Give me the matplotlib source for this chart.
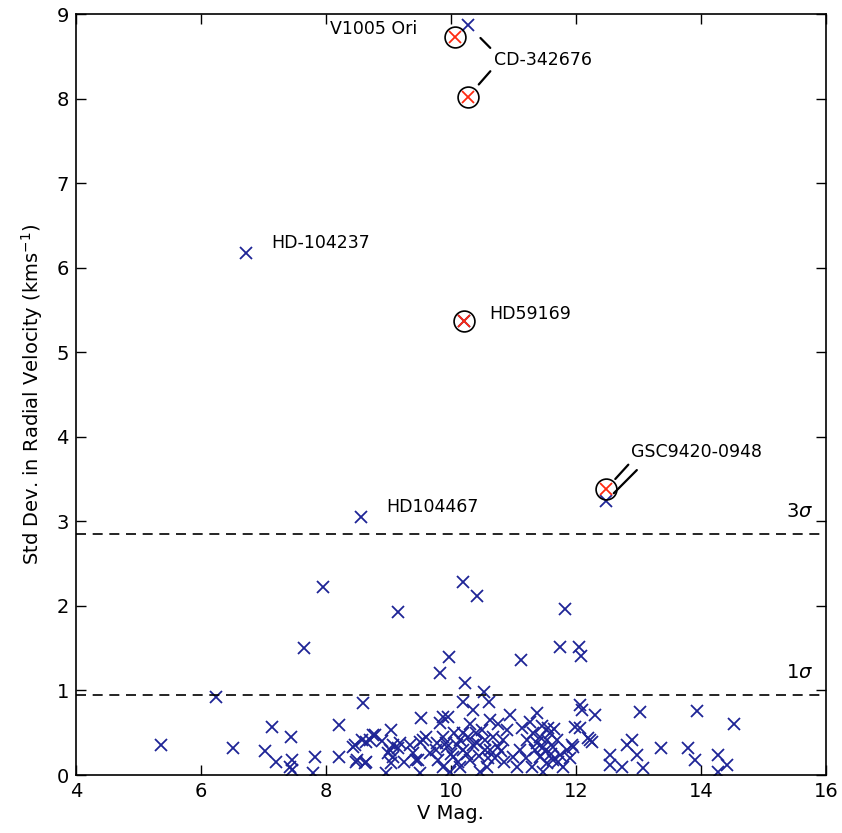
import numpy as np
import matplotlib
matplotlib.use('Agg')
import matplotlib.pyplot as plt

plt.rcParams['font.family'] = 'DejaVu Sans'

# ==========================================
# DATA
# ==========================================
# all stars: V magnitude and std dev of RV (km/s)
vmag = [
    6.72, 8.56, 12.48, 10.21, 10.27,
    7.95, 9.15, 7.65, 10.19, 10.42, 11.82, 11.74, 12.05, 12.08, 11.12, 9.97, 9.82, 10.22, 10.53,
    6.24, 5.36, 6.51, 7.14, 7.02, 7.20, 7.44, 7.42, 7.46, 7.46, 7.82, 7.80, 8.21, 8.21, 8.46,
    8.48, 8.64, 8.59, 8.64, 8.75, 9.04, 9.07, 9.15, 8.99, 9.04, 8.96, 9.52, 9.50, 9.44, 9.50,
    9.82, 9.76, 9.92, 9.66, 8.43, 8.58, 8.70, 8.78, 8.50, 8.62, 9.02, 9.07, 9.18, 9.39, 9.47,
    9.55, 9.78, 9.87, 9.79, 9.87,
    10.61, 10.19, 12.06, 12.10, 12.30, 13.02, 13.94, 14.53, 9.95, 10.35, 10.62, 10.94, 11.38,
    11.26, 12.06, 12.19, 12.26, 9.94, 10.03, 10.14, 10.19, 10.27, 10.30, 10.14, 10.42, 10.50,
    10.54, 10.62, 10.67, 10.75, 10.83, 10.90, 10.58, 10.46, 10.99, 11.10, 11.06, 11.22, 11.31,
    11.38, 11.42, 11.47, 11.54, 11.58, 11.63, 11.70, 11.42, 11.54, 11.63, 11.47, 11.74, 11.86,
    11.79, 11.95, 11.98, 11.90, 9.87, 9.98, 10.11,
    12.54, 12.54, 12.74, 12.82, 12.90, 12.98, 13.07, 13.36, 13.79, 13.90, 14.27, 14.42, 14.27,
    11.45, 11.65, 10.75, 10.30, 10.05, 10.60, 10.85, 11.20, 11.30,
    10.00, 10.10, 10.25, 10.35, 10.45, 10.55, 10.70, 10.40, 10.20, 10.80, 11.55, 11.14,
    11.50, 11.35, 11.60, 11.72, 11.94, 12.22, 9.60, 9.35, 8.90, 9.25,
]
sd_rv = [
    6.18, 3.05, 3.24, 5.37, 8.87,
    2.22, 1.93, 1.50, 2.28, 2.12, 1.96, 1.51, 1.51, 1.41, 1.36, 1.40, 1.21, 1.09, 0.98,
    0.92, 0.35, 0.32, 0.57, 0.29, 0.15, 0.45, 0.09, 0.18, 0.06, 0.21, 0.02, 0.59, 0.21, 0.35,
    0.15, 0.15, 0.85, 0.39, 0.47, 0.53, 0.35, 0.32, 0.26, 0.14, 0.02, 0.67, 0.39, 0.18, 0.02,
    0.61, 0.30, 0.38, 0.26, 0.33, 0.41, 0.41, 0.47, 0.18, 0.14, 0.30, 0.21, 0.38, 0.26, 0.18,
    0.41, 0.38, 0.45, 0.18, 0.69,
    0.86, 0.86, 0.83, 0.77, 0.71, 0.75, 0.76, 0.60, 0.69, 0.77, 0.65, 0.71, 0.73,
    0.63, 0.56, 0.44, 0.39, 0.33, 0.21, 0.41, 0.30, 0.45, 0.18, 0.09, 0.38, 0.53,
    0.41, 0.30, 0.45, 0.33, 0.41, 0.53, 0.09, 0.04, 0.21, 0.30, 0.09, 0.41, 0.50,
    0.38, 0.45, 0.33, 0.41, 0.50, 0.33, 0.41, 0.21, 0.14, 0.18, 0.04, 0.24, 0.30,
    0.09, 0.33, 0.57, 0.20, 0.09, 0.04, 0.15,
    0.24, 0.12, 0.09, 0.36, 0.41, 0.24, 0.08, 0.32, 0.32, 0.18, 0.24, 0.12, 0.04,
    0.58, 0.55, 0.60, 0.60, 0.50, 0.20, 0.15, 0.20, 0.10,
    0.25, 0.35, 0.25, 0.35, 0.22, 0.30, 0.20, 0.50, 0.50, 0.28, 0.56, 0.56,
    0.28, 0.30, 0.25, 0.15, 0.35, 0.41, 0.45, 0.35, 0.40, 0.15,
]

# flagged (circled) stars
flag_vmag = [10.06, 10.27, 10.21, 12.48]
flag_sd = [8.73, 8.02, 5.37, 3.38]

# sigma thresholds
sigma1 = 0.946
sigma3 = 2.85

# ==========================================
# PLOT
# ==========================================
fig = plt.figure(figsize=(8.42, 8.33), dpi=100)
ax = fig.add_axes([0.090, 0.0696, 0.891, 0.9134])

ax.plot(vmag, sd_rv, linestyle='None', marker='x', markersize=9, mew=1.3,
        color='#1e2496')
ax.plot(flag_vmag, flag_sd, linestyle='None', marker='o', markersize=15,
        mfc='none', mec='black', mew=1.2)
ax.plot(flag_vmag, flag_sd, linestyle='None', marker='x', markersize=9, mew=1.3,
        color='#ff2a10')

ax.axhline(sigma1, color='black', linestyle='--', dashes=(6, 4), lw=1.2)
ax.axhline(sigma3, color='black', linestyle='--', dashes=(6, 4), lw=1.2)
ax.text(15.8, sigma3 + 0.15, r'3$\sigma$', fontsize=14, ha='right', va='bottom')
ax.text(15.8, sigma1 + 0.15, r'1$\sigma$', fontsize=14, ha='right', va='bottom')

# labels
lbl = dict(fontsize=12.5, va='center', ha='left')
ax.text(8.06, 8.83, 'V1005 Ori', **lbl)
ax.text(10.62, 5.45, 'HD59169', **lbl)
ax.text(7.12, 6.29, 'HD-104237', **lbl)
ax.text(8.96, 3.17, 'HD104467', **lbl)


def link(rel, sa, sb):
    return dict(arrowstyle='-', lw=1.6, color='black', relpos=rel,
                shrinkA=sa, shrinkB=sb)


ax.annotate('CD-342676', xy=(10.27, 8.87), xytext=(10.69, 8.46),
            arrowprops=link((0.0, 0.95), 1, 13), **lbl)
ax.annotate('CD-342676', xy=(10.27, 8.02), xytext=(10.69, 8.46),
            arrowprops=link((0.0, 0.1), 1, 12), color='none', **lbl)
ax.annotate('GSC9420-0948', xy=(12.48, 3.38), xytext=(12.88, 3.82),
            arrowprops=link((-0.02, -0.2), 0, 10), **lbl)
ax.annotate('GSC9420-0948', xy=(12.48, 3.24), xytext=(12.88, 3.82),
            arrowprops=link((0.045, -0.5), 0, 8), color='none', **lbl)

ax.set_xlim(4, 16)
ax.set_ylim(0, 9)
ax.set_xticks(np.arange(4, 17, 2))
ax.set_yticks(np.arange(0, 10, 1))
ax.tick_params(axis='both', direction='in', length=7, width=1, labelsize=14,
               top=True, right=True, pad=5)
for s in ax.spines.values():
    s.set_linewidth(1.2)

ax.set_xlabel('V Mag.', fontsize=14, labelpad=2)
ax.set_ylabel(r'Std Dev. in Radial Velocity (kms$^{-1}$)', fontsize=14, labelpad=8)

fig.savefig('out.png', dpi=100)
